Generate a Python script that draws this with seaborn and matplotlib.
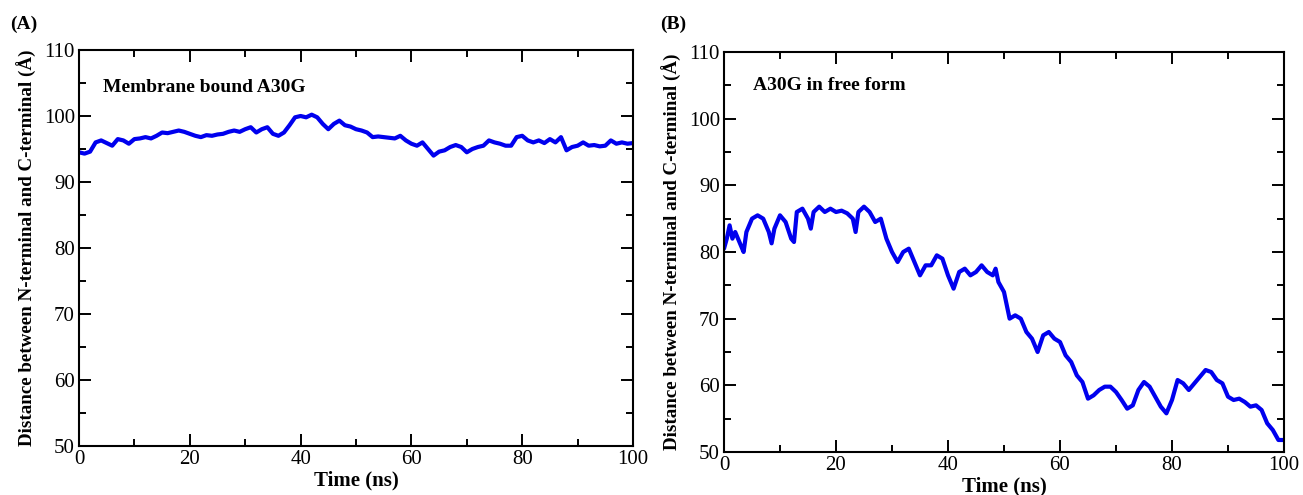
"""
End-to-end distance of A30G: membrane bound vs free form
"""

import numpy as np
import pandas as pd
import matplotlib
matplotlib.use("Agg")
import matplotlib.pyplot as plt
from matplotlib.ticker import MultipleLocator
import seaborn as sns

# Panel A - membrane bound A30G (1 ns steps)
time_a = list(range(0, 101))
dist_a = [94.5, 94.3, 94.6, 96.0, 96.3, 95.9, 95.5, 96.5, 96.3, 95.8,
          96.5, 96.6, 96.8, 96.6, 97.0, 97.5, 97.4, 97.6, 97.8, 97.6,
          97.3, 97.0, 96.8, 97.1, 97.0, 97.2, 97.3, 97.6, 97.8, 97.6,
          98.0, 98.3, 97.5, 98.0, 98.3, 97.3, 97.0, 97.5, 98.6, 99.8,
          100.0, 99.8, 100.2, 99.8, 98.8, 98.0, 98.8, 99.3, 98.6, 98.4,
          98.0, 97.8, 97.5, 96.8, 96.9, 96.8, 96.7, 96.6, 97.0, 96.3,
          95.8, 95.5, 96.0, 95.0, 94.0, 94.6, 94.8, 95.3, 95.6, 95.3,
          94.5, 95.0, 95.3, 95.5, 96.3, 96.0, 95.8, 95.5, 95.5, 96.8,
          97.0, 96.3, 96.0, 96.3, 95.9, 96.5, 96.0, 96.8, 94.8, 95.3,
          95.5, 96.0, 95.5, 95.6, 95.4, 95.5, 96.3, 95.8, 96.0, 95.8,
          95.9]

# Panel B - A30G in free form
time_b = [0, 0.5, 1, 1.5, 2, 3, 3.5, 4, 5, 6, 7, 8, 8.5, 9, 10, 11, 12, 12.5,
          13, 14, 15, 15.5, 16, 17, 18, 19, 20, 21, 22, 23, 23.5, 24, 25, 26,
          27, 28, 29, 30, 31, 32, 33, 34, 35, 36, 37, 38, 39, 40, 41, 42, 43,
          44, 45, 46, 47, 48, 48.5, 49, 50, 50.5, 51, 52, 53, 54, 55, 56, 57,
          58, 59, 60, 61, 62, 63, 64, 65, 66, 67, 68, 69, 70, 71, 72, 73, 74,
          75, 76, 77, 78, 79, 80, 81, 82, 83, 84, 85, 86, 87, 88, 89, 90, 91,
          92, 93, 94, 95, 96, 97, 98, 99, 100]
dist_b = [80.5, 82.0, 84.0, 82.0, 83.0, 81.0, 80.0, 83.0, 85.0, 85.5,
          85.0, 83.0, 81.3, 83.5, 85.5, 84.5, 82.0, 81.5,
          86.0, 86.5, 85.0, 83.5, 86.0, 86.8, 86.0, 86.5, 86.0, 86.2, 85.8,
          85.0, 83.0, 86.0, 86.8, 86.0,
          84.5, 85.0, 82.0, 80.0, 78.5, 80.0, 80.5, 78.5, 76.5, 78.0, 78.0,
          79.5, 79.0, 76.5, 74.5, 77.0, 77.5,
          76.5, 77.0, 78.0, 77.0, 76.5, 77.5, 75.5, 74.0, 72.0, 70.0, 70.5,
          70.0, 68.0, 67.0, 65.0, 67.5,
          68.0, 67.0, 66.5, 64.5, 63.5, 61.5, 60.5, 58.0, 58.5, 59.3, 59.8,
          59.8, 59.0, 57.8, 56.5, 57.0, 59.3,
          60.5, 59.8, 58.3, 56.8, 55.8, 57.8, 60.8, 60.3, 59.3, 60.3, 61.3,
          62.3, 62.0, 60.8, 60.3, 58.3, 57.8,
          58.0, 57.5, 56.8, 57.0, 56.3, 54.3, 53.3, 51.8, 51.8]

panel_labels = ["(A)", "(B)"]
panel_titles = ["Membrane bound A30G", "A30G in free form"]
y_label = "Distance between N-terminal and C-terminal (\u00c5)"
x_label = "Time (ns)"

sns.set_style("ticks")
plt.rcParams['font.family'] = ['Liberation Serif', 'DejaVu Serif']
plt.rcParams['text.color'] = 'black'
plt.rcParams['axes.labelcolor'] = 'black'
plt.rcParams['xtick.color'] = 'black'
plt.rcParams['ytick.color'] = 'black'
plt.rcParams['axes.edgecolor'] = 'black'

LINE_COLOR = '#0000ee'

fig = plt.figure(figsize=(13.03, 4.95), dpi=100)
ax_a = fig.add_axes([79 / 1303, 1 - 446 / 495, 554 / 1303, 396 / 495])
ax_b = fig.add_axes([724 / 1303, 1 - 452 / 495, 560 / 1303, 400 / 495])

df_a = pd.DataFrame({'time': time_a, 'dist': dist_a})
df_b = pd.DataFrame({'time': time_b, 'dist': dist_b})

setups = [
    (ax_a, df_a, panel_titles[0], panel_labels[0], 0.008, (0.043, 0.906)),
    (ax_b, df_b, panel_titles[1], panel_labels[1], 0.507, (0.052, 0.915)),
]

for ax, df, title, plabel, lab_x, text_xy in setups:
    sns.lineplot(data=df, x='time', y='dist', ax=ax, color=LINE_COLOR,
                 linewidth=3.0, estimator=None, sort=False)
    ax.set_xlim(0, 100)
    ax.set_ylim(50, 110)
    ax.xaxis.set_major_locator(MultipleLocator(20))
    ax.xaxis.set_minor_locator(MultipleLocator(10))
    ax.yaxis.set_major_locator(MultipleLocator(10))
    ax.yaxis.set_minor_locator(MultipleLocator(5))
    ax.tick_params(which='both', direction='in', top=True, right=True,
                   width=1.4, labelsize=15, pad=3)
    ax.tick_params(which='major', length=8.5)
    ax.tick_params(which='minor', length=5)
    for sp in ax.spines.values():
        sp.set_linewidth(1.5)
    ax.set_xlabel(x_label, fontsize=15, fontweight='bold', labelpad=1)
    ax.set_ylabel(y_label, fontsize=13.7, fontweight='bold', labelpad=5)
    ax.text(text_xy[0], text_xy[1], title, transform=ax.transAxes,
            fontsize=14, fontweight='bold', va='center', ha='left')
    fig.text(lab_x, 0.951, plabel, fontsize=14, fontweight='bold',
             ha='left', va='center')

fig.savefig('out.png', dpi=100)
plt.close(fig)
